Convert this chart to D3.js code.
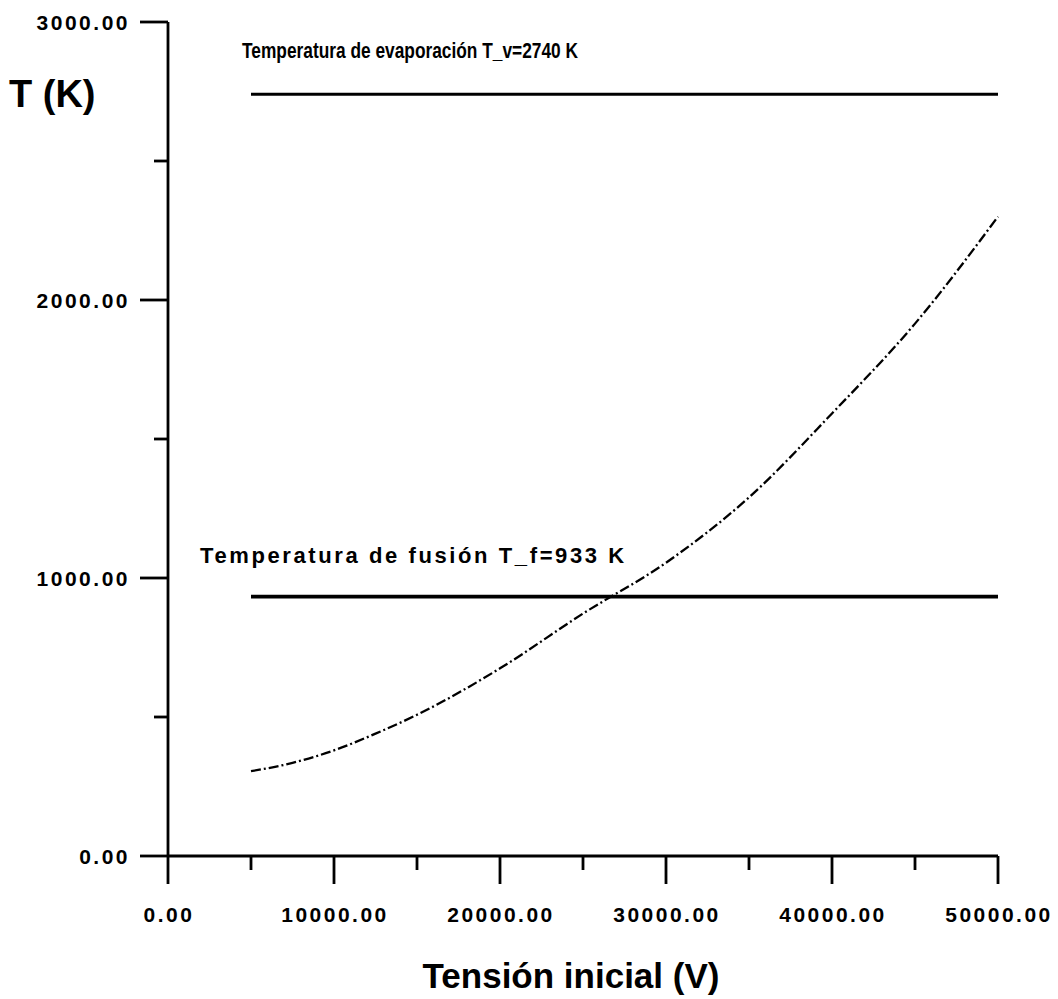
<!DOCTYPE html>
<html>
<head>
<meta charset="utf-8">
<script src="https://cdn.jsdelivr.net/npm/d3@7"></script>
<style>
  body { margin: 0; background: #fff; }
  svg { display: block; }
  text { font-family: "Liberation Sans", Arial, sans-serif; fill: #000; }
</style>
</head>
<body>
<svg id="chart" width="1058" height="999"></svg>
<script>
// values
const tension = [5000, 7500, 10000, 12500, 15000, 20000, 25000, 30000, 35000, 40000, 45000, 50000]
const temperatura = [305, 335, 380, 440, 508, 675, 872, 1055, 1290, 1592, 1915, 2300]

const tFusion = 933
const tEvap = 2740
const lineStart = 5000
const lineEnd = 50000

const xMajor = [0, 10000, 20000, 30000, 40000, 50000]
const xMinor = [5000, 15000, 25000, 35000, 45000]
const yMajor = [0, 1000, 2000, 3000]
const yMinor = [500, 1500, 2500]

const svg = d3.select('#chart')

const x = d3.scaleLinear().domain([0, 50000]).range([168, 998])
const y = d3.scaleLinear().domain([0, 3000]).range([856, 22])

const fmt = d3.format('.2f')

// axes: line + ticks pointing outward
const axes = svg.append('g')
    .attr('stroke', '#000')
    .attr('stroke-width', 2.8)
    .attr('fill', 'none')

axes.append('line')
    .attr('x1', x(0)).attr('x2', x(0))
    .attr('y1', y(3000)).attr('y2', y(0))
axes.append('line')
    .attr('x1', x(0)).attr('x2', x(50000))
    .attr('y1', y(0)).attr('y2', y(0))

axes.selectAll('.ymaj').data(yMajor).enter().append('line')
    .attr('x1', x(0) - 28).attr('x2', x(0))
    .attr('y1', d => y(d)).attr('y2', d => y(d))
axes.selectAll('.ymin').data(yMinor).enter().append('line')
    .attr('x1', x(0) - 14).attr('x2', x(0))
    .attr('y1', d => y(d)).attr('y2', d => y(d))
axes.selectAll('.xmaj').data(xMajor).enter().append('line')
    .attr('x1', d => x(d)).attr('x2', d => x(d))
    .attr('y1', y(0)).attr('y2', y(0) + 28)
axes.selectAll('.xmin').data(xMinor).enter().append('line')
    .attr('x1', d => x(d)).attr('x2', d => x(d))
    .attr('y1', y(0)).attr('y2', y(0) + 14)

svg.selectAll('.ylab').data(yMajor).enter().append('text')
    .attr('x', x(0) - 38)
    .attr('y', d => y(d) + 8)
    .attr('text-anchor', 'end')
    .attr('font-size', 21)
    .attr('font-weight', 'bold')
    .attr('letter-spacing', 2.5)
    .text(d => fmt(d))

svg.selectAll('.xlab').data(xMajor).enter().append('text')
    .attr('x', d => x(d) + 1)
    .attr('y', 922)
    .attr('text-anchor', 'middle')
    .attr('font-size', 21)
    .attr('font-weight', 'bold')
    .attr('letter-spacing', 2.5)
    .text(d => fmt(d))

// titles
svg.append('text')
    .attr('x', 571).attr('y', 988)
    .attr('text-anchor', 'middle')
    .attr('font-size', 35)
    .attr('font-weight', 'bold')
    .text('Tensión inicial (V)')

svg.append('text')
    .attr('x', 9).attr('y', 107)
    .attr('font-size', 38)
    .attr('font-weight', 'bold')
    .text('T (K)')

// reference lines
svg.append('line')
    .attr('x1', x(lineStart)).attr('x2', x(lineEnd))
    .attr('y1', y(tEvap)).attr('y2', y(tEvap))
    .attr('stroke', '#000').attr('stroke-width', 3)

svg.append('line')
    .attr('x1', x(lineStart)).attr('x2', x(lineEnd))
    .attr('y1', y(tFusion)).attr('y2', y(tFusion))
    .attr('stroke', '#000').attr('stroke-width', 3.8)

svg.append('text')
    .attr('x', 242).attr('y', 58)
    .attr('font-size', 22)
    .attr('font-weight', 'bold')
    .attr('textLength', 336)
    .attr('lengthAdjust', 'spacingAndGlyphs')
    .text('Temperatura de evaporación T_v=' + tEvap + ' K')

svg.append('text')
    .attr('x', 200).attr('y', 563)
    .attr('font-size', 22)
    .attr('font-weight', 'bold')
    .attr('letter-spacing', 2.6)
    .text('Temperatura de fusión T_f=' + tFusion + ' K')

// the curve, dash-dot
const line = d3.line()
    .x((d, i) => x(tension[i]))
    .y(d => y(d))
    .curve(d3.curveMonotoneX)

svg.append('path')
    .datum(temperatura)
    .attr('d', line)
    .attr('fill', 'none')
    .attr('stroke', '#000')
    .attr('stroke-width', 2.3)
    .attr('stroke-dasharray', '10,3,2,3')
</script>
</body>
</html>
